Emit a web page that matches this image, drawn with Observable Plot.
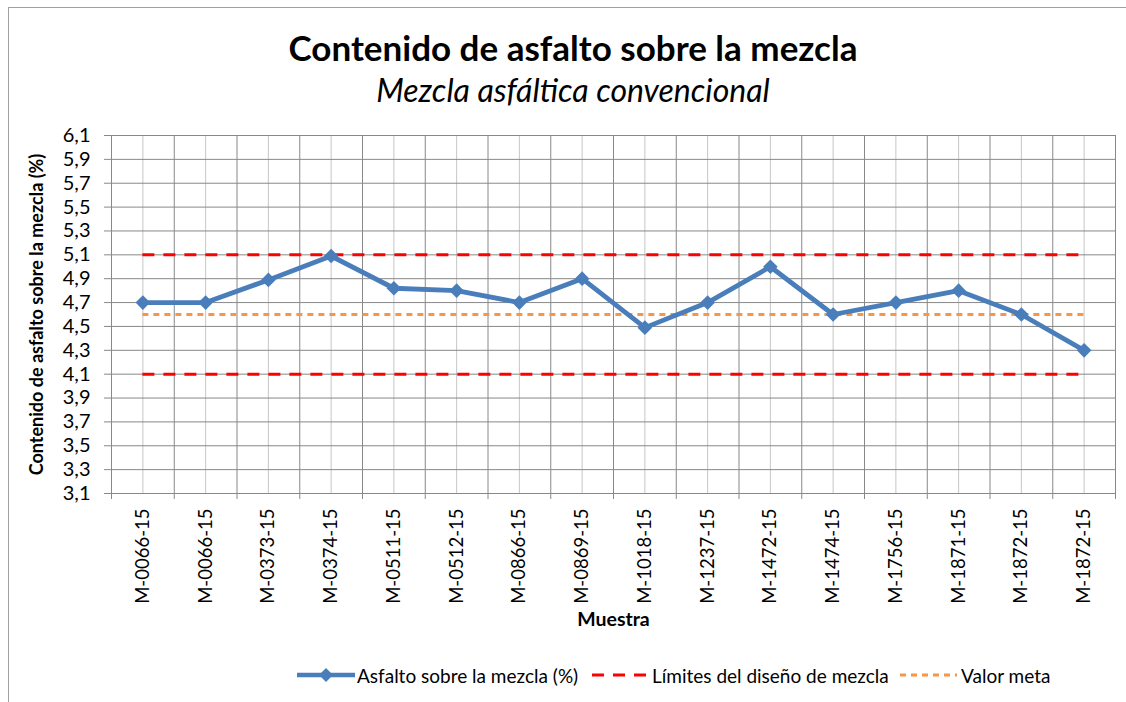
<!DOCTYPE html>
<html>
<head>
<meta charset="utf-8">
<script src="https://cdn.jsdelivr.net/npm/d3@7"></script>
<script src="https://cdn.jsdelivr.net/npm/@observablehq/plot@0.6"></script>
<style>
  html, body { margin:0; padding:0; background:#fff; overflow:hidden; }
  #wrap { position:relative; width:1126px; height:702px; font-family:Lato, "Open Sans", sans-serif; color:#000; }
  #border { position:absolute; left:8px; top:7px; width:1200px; height:800px; border-left:1px solid #a0a0a0; border-top:1px solid #a0a0a0; }
  #title { position:absolute; left:10px; width:1126px; top:25px; text-align:center; font-weight:bold; font-size:35px; line-height:44px; }
  #subtitle { position:absolute; left:10px; width:1126px; top:70px; text-align:center; font-style:italic; font-size:32px; line-height:40px; }
  #chart { position:absolute; left:0; top:120px; }
  .leg { position:absolute; top:664px; display:flex; align-items:center; font-size:19px; height:22px; white-space:nowrap; }
  .leg svg { margin-right:2px; }
</style>
</head>
<body>
<div id="wrap">
  <div id="border"></div>
  <div id="title"></div>
  <div id="subtitle"></div>
  <div id="chart"></div>
  <div class="leg" id="leg1" style="left:297px"></div>
  <div class="leg" id="leg2" style="left:592px"></div>
  <div class="leg" id="leg3" style="left:900px"></div>
</div>
<script>
const titulo = "Contenido de asfalto sobre la mezcla";
const subtitulo = "Mezcla asfáltica convencional";
const tituloY = "Contenido de asfalto sobre la mezcla (%)";
const tituloX = "Muestra";
const muestras = ["M-0066-15","M-0066-15","M-0373-15","M-0374-15","M-0511-15","M-0512-15","M-0866-15","M-0869-15","M-1018-15","M-1237-15","M-1472-15","M-1474-15","M-1756-15","M-1871-15","M-1872-15","M-1872-15"];
const asfalto = [4.7, 4.7, 4.89, 5.09, 4.82, 4.8, 4.7, 4.9, 4.49, 4.7, 5.0, 4.6, 4.7, 4.8, 4.6, 4.3];
const limiteSuperior = 5.1;
const limiteInferior = 4.1;
const valorMeta = 4.6;
const yTicks = [3.1, 3.3, 3.5, 3.7, 3.9, 4.1, 4.3, 4.5, 4.7, 4.9, 5.1, 5.3, 5.5, 5.7, 5.9, 6.1];
const serieNombres = ["Asfalto sobre la mezcla (%)", "Límites del diseño de mezcla", "Valor meta"];

document.getElementById("title").textContent = titulo;
document.getElementById("subtitle").textContent = subtitulo;

const blue = "#4a7ebb", red = "#ff0000", orange = "#f79646", gridDark = "#888888", gridLight = "#c6c6c6";
const rows = asfalto.map((v, i) => ({i, muestra: muestras[i], v}));
const centers = muestras.map((_, i) => i);
const bounds = d3.range(muestras.length + 1).map(i => i - 0.5);
const last = muestras.length - 1;
const fmt = d => d.toFixed(1).replace(".", ",");

const chart = Plot.plot({
  width: 1126, height: 582,
  marginTop: 15, marginBottom: 209, marginLeft: 111, marginRight: 11,
  x: {domain: [-0.5, muestras.length - 0.5], axis: null},
  y: {domain: [yTicks[0], yTicks[yTicks.length - 1]], axis: null},
  style: {fontFamily: "Lato, 'Open Sans', sans-serif", fontSize: "20px", color: "#000", background: "transparent", overflow: "visible"},
  marks: [
    Plot.gridX(centers, {stroke: gridLight, strokeOpacity: 1}),
    Plot.gridX(bounds, {stroke: gridDark, strokeOpacity: 1}),
    Plot.gridY(yTicks, {stroke: gridDark, strokeOpacity: 1}),
    Plot.axisY(yTicks, {tickSize: 7, tickPadding: 14, tickFormat: fmt, stroke: gridDark, fill: "#000", fontSize: 20, label: null}),
    Plot.axisX(bounds, {tickSize: 6, tickFormat: () => "", stroke: gridDark, label: null}),
    Plot.axisX(centers, {tickSize: 0, tickPadding: 15, tickRotate: -90, tickFormat: i => muestras[i], fill: "#000", fontSize: 18.5, label: null}),
    Plot.ruleX([-0.5], {stroke: gridDark}),
    Plot.ruleY([yTicks[0]], {stroke: gridDark}),
    Plot.ruleY([limiteSuperior, limiteInferior], {x1: 0, x2: last, stroke: red, strokeWidth: 3, strokeDasharray: "12,9"}),
    Plot.ruleY([valorMeta], {x1: 0, x2: last, stroke: orange, strokeWidth: 3, strokeDasharray: "6,5"}),
    Plot.line(rows, {x: "i", y: "v", stroke: blue, strokeWidth: 4.8, strokeLinejoin: "round"}),
    Plot.dot(rows, {x: "i", y: "v", symbol: "diamond2", r: 6.6, fill: blue, stroke: "none"}),
    Plot.text([tituloX], {frameAnchor: "bottom", dy: 132, fontWeight: "bold", fontSize: 19.5, fill: "#000"}),
    Plot.text([tituloY], {frameAnchor: "left", textAnchor: "middle", dx: -74, rotate: -90, fontWeight: "bold", fontSize: 18, fill: "#000"})
  ]
});
document.getElementById("chart").appendChild(chart);

// legend
function legItem(id, svgInner, w, label) {
  const el = document.getElementById(id);
  el.innerHTML = `<svg width="${w}" height="22">${svgInner}</svg><span>${label}</span>`;
}
legItem("leg1", `<line x1="0" x2="58" y1="11" y2="11" stroke="${blue}" stroke-width="4.5"/><path d="M29,4 L36,11 L29,18 L22,11 Z" fill="${blue}"/>`, 58, serieNombres[0]);
legItem("leg2", `<line x1="0" x2="54" y1="11" y2="11" stroke="${red}" stroke-width="3" stroke-dasharray="12,9"/>`, 58, serieNombres[1]);
legItem("leg3", `<line x1="0" x2="57" y1="11" y2="11" stroke="${orange}" stroke-width="3" stroke-dasharray="6,5"/>`, 59, serieNombres[2]);
</script>
</body>
</html>
